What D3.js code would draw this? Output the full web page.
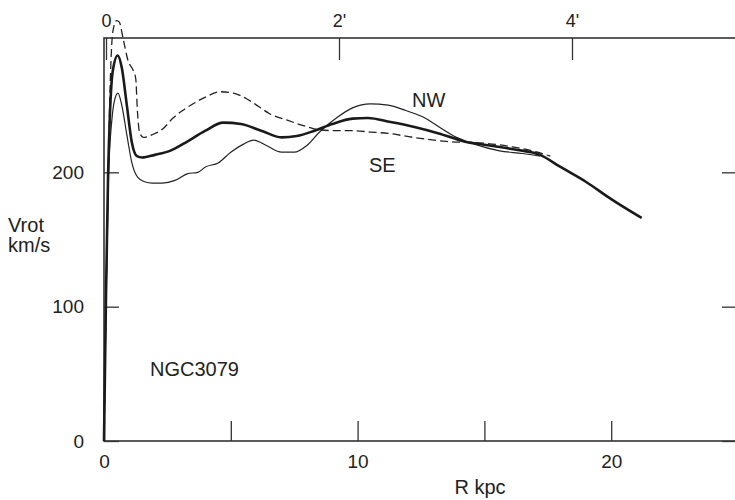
<!DOCTYPE html>
<head>
  <meta charset="utf-8">
  <title>NGC3079 Rotationskurve</title>
  <script src="https://d3js.org/d3.v7.min.js"></script>
  <style>
    body { margin: 0; background: #fff; }
    text { font-family: "Liberation Sans", Arial, sans-serif; fill: #222; }
  </style>
</head>
<body>
  <div id="chart"></div>

  <script type="text/javascript">

    // Mittlere Kurve (dick)
    var meanR = [0, 0.08, 0.16, 0.24, 0.35, 0.54, 0.7, 0.9, 1.1, 1.3, 1.5, 2.0, 2.6, 3.2, 4.0, 4.7, 5.4, 6.2, 7.0, 7.6, 8.3, 9.0, 9.8, 10.4, 11.3, 12.2, 13.2, 14.2, 15.2, 16.2, 17.2, 18.0, 19.0, 20.0, 21.2];
    var meanV = [0, 110, 197, 246, 276, 287, 278, 250, 222, 212, 211, 213, 216, 222, 231, 237, 236, 231, 226, 227, 231, 236, 240, 240.5, 237.5, 234, 229, 223, 220, 217, 213, 204, 193, 180, 166];

    // NW-Seite (dünn)
    var nwR = [0, 0.08, 0.18, 0.31, 0.42, 0.55, 0.7, 0.9, 1.1, 1.34, 1.6, 1.9, 2.3, 2.8, 3.3, 3.7, 4.0, 4.5, 5.0, 5.5, 5.9, 6.4, 7.0, 7.5, 8.0, 8.5, 9.2, 9.8, 10.5, 11.2, 11.9, 12.6, 13.2, 13.9, 14.6, 15.6, 16.5, 17.2];
    var nwV = [0, 105, 197, 239, 254, 259, 250, 228, 207, 196, 193, 192, 192, 194, 199, 200, 204, 207, 215, 221, 224, 220, 215, 215, 220, 230, 241, 248, 251, 250, 246, 241, 234, 226, 221, 216, 214, 212];

    // SE-Seite (gestrichelt)
    var seR = [0, 0.12, 0.24, 0.35, 0.5, 0.6, 0.75, 0.95, 1.15, 1.25, 1.32, 1.4, 1.55, 1.9, 2.3, 2.7, 3.1, 3.6, 4.0, 4.6, 5.1, 5.6, 6.1, 6.5, 7.2, 8.0, 8.5, 9.2, 9.8, 10.5, 11.2, 12.2, 13.5, 14.8, 16.1, 17.1, 17.6];
    var seV = [0, 150, 263, 305, 313, 312, 300, 283, 276, 270, 245, 230, 226, 228, 232, 240, 246, 252, 256, 260, 259, 255, 249, 244, 239, 234, 231.6, 231, 231, 230, 229, 226, 223, 222, 219, 215, 212];

    // Achsen
    var xTicks = [0, 5, 10, 15, 20];
    var xLabels = ['0', '', '10', '', '20'];
    var yTicks = [0, 100, 200];
    var yLabels = ['0', '100', '200'];
    var arcTicks = [0, 2, 4];
    var arcLabels = ['0', "2'", "4'"];

    var margin = { top: 38, left: 104 };
    var width = 634;
    var height = 403;

    var xScale = d3.scaleLinear().domain([0, 25]).range([0, width]);
    var yScale = d3.scaleLinear().domain([0, 300]).range([height, 0]);
    // Bogenminuten oben
    var arcScale = d3.scaleLinear().domain([0, 4]).range([2, 468]);

    var svg = d3.select('#chart')
      .append('svg')
        .attr('width', 735)
        .attr('height', 500);

    var group = svg.append('g')
      .attr('transform', 'translate(' + margin.left + ',' + margin.top + ')');

    // Rahmen
    group.append('rect')
      .attr('x', 0).attr('y', 0)
      .attr('width', width).attr('height', height)
      .attr('fill', 'none')
      .attr('stroke', '#333')
      .attr('stroke-width', 1.6);

    function styleAxis(g) {
      g.select('.domain').remove();
      g.selectAll('.tick line').attr('stroke', '#333').attr('stroke-width', 1.3);
      g.selectAll('.tick text').style('font-size', '19px').attr('fill', '#222');
    }

    group.append('g')
      .attr('transform', 'translate(0,' + height + ')')
      .call(d3.axisBottom(xScale).tickValues(xTicks)
        .tickFormat(function (d, i) { return xLabels[i]; })
        .tickSize(-20).tickPadding(14))
      .call(styleAxis);

    group.append('g')
      .call(d3.axisLeft(yScale).tickValues(yTicks)
        .tickFormat(function (d, i) { return yLabels[i]; })
        .tickSize(-15).tickPadding(20))
      .call(styleAxis);

    group.append('g')
      .attr('transform', 'translate(' + width + ',0)')
      .call(d3.axisRight(yScale).tickValues(yTicks).tickFormat('').tickSize(-16))
      .call(styleAxis);

    group.append('g')
      .call(d3.axisTop(arcScale).tickValues(arcTicks)
        .tickFormat(function (d, i) { return arcLabels[i]; })
        .tickSize(-22).tickPadding(11))
      .call(styleAxis)
      .selectAll('.tick text').style('font-size', '18px');

    var line = d3.line()
      .x(function (d) { return xScale(d[0]); })
      .y(function (d) { return yScale(d[1]); })
      .curve(d3.curveMonotoneX);

    group.append('path')
      .datum(d3.zip(nwR, nwV))
      .attr('fill', 'none')
      .attr('stroke', '#222')
      .attr('stroke-width', 1.2)
      .attr('d', line);

    group.append('path')
      .datum(d3.zip(seR, seV))
      .attr('fill', 'none')
      .attr('stroke', '#222')
      .attr('stroke-width', 1.3)
      .attr('stroke-dasharray', '8,4')
      .attr('d', line);

    group.append('path')
      .datum(d3.zip(meanR, meanV))
      .attr('fill', 'none')
      .attr('stroke', '#1a1a1a')
      .attr('stroke-width', 2.6)
      .attr('d', line);

    // Beschriftungen
    svg.append('text').attr('x', 8).attr('y', 232).style('font-size', '20px').text('Vrot');
    svg.append('text').attr('x', 8).attr('y', 252).style('font-size', '20px').text('km/s');
    svg.append('text').attr('x', 480).attr('y', 494).attr('text-anchor', 'middle').style('font-size', '20px').text('R kpc');
    svg.append('text').attr('x', 412).attr('y', 107).style('font-size', '20px').text('NW');
    svg.append('text').attr('x', 369).attr('y', 172).style('font-size', '20px').text('SE');
    svg.append('text').attr('x', 150).attr('y', 376).style('font-size', '20px').text('NGC3079');

  </script>
</body>
